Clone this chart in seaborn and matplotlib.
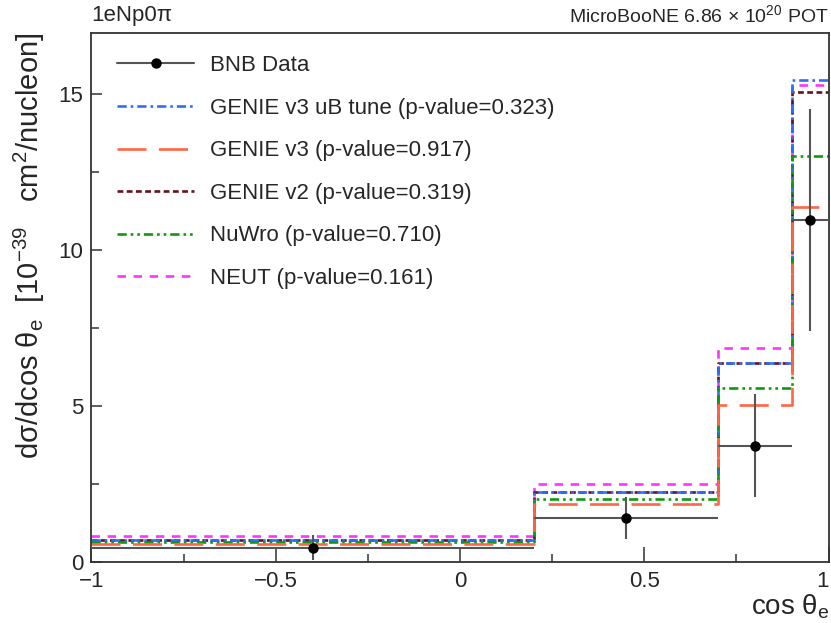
import numpy as np
import pandas as pd
import matplotlib
matplotlib.use("Agg")
import matplotlib.pyplot as plt
import seaborn as sns
from matplotlib.lines import Line2D
from matplotlib.ticker import MultipleLocator

# ---- data ----
bin_edges = [-1.0, 0.2, 0.7, 0.9, 1.0]
bin_centers = [-0.4, 0.45, 0.8, 0.95]
data_vals = [0.46, 1.40, 3.72, 10.97]
data_errs = [0.41, 0.67, 1.65, 3.56]

genie_v3_ub = [0.70, 2.23, 6.37, 15.43]
genie_v3 = [0.58, 1.85, 5.03, 11.36]
genie_v2 = [0.70, 2.23, 6.37, 15.07]
nuwro = [0.64, 2.03, 5.59, 13.01]
neut = [0.82, 2.50, 6.85, 15.29]

model_names = ["GENIE v3 uB tune (p-value=0.323)",
               "GENIE v3 (p-value=0.917)",
               "GENIE v2 (p-value=0.319)",
               "NuWro (p-value=0.710)",
               "NEUT (p-value=0.161)"]
model_vals = [genie_v3_ub, genie_v3, genie_v2, nuwro, neut]
model_colors = ["#2f6ff5", "#ff6644", "#6b0f1a", "#109a10", "#ff33ff"]
model_styles = [(0, (3.5, 1.5, 1, 1.5)), (0, (11, 4.7)), (0, (2.2, 1.3)),
                (0, (3.5, 1.5, 1, 1.5, 1, 1.5)), (0, (3.2, 2.9))]
LW = 1.9

sns.set_theme(style="ticks")
plt.rcParams["font.family"] = ["Liberation Sans", "DejaVu Sans"]
plt.rcParams["mathtext.fontset"] = "custom"
plt.rcParams["mathtext.rm"] = "Liberation Sans"
plt.rcParams["mathtext.it"] = "Liberation Sans:italic"

fig = plt.figure(figsize=(8.31, 6.23), dpi=100)
ax = fig.add_axes([0.110, 0.098, 0.887, 0.849])

draw_order = [4, 2, 0, 3, 1]
for i in draw_order:
    sns.histplot(x=bin_centers, weights=model_vals[i], bins=bin_edges,
                 element="step", fill=False, color=model_colors[i],
                 linestyle=model_styles[i], linewidth=LW, ax=ax)

ax.errorbar(bin_centers, data_vals, yerr=data_errs,
            xerr=[np.array(bin_centers) - np.array(bin_edges[:-1]),
                  np.array(bin_edges[1:]) - np.array(bin_centers)],
            fmt="o", color="black", ecolor="#555555", elinewidth=1.5,
            markersize=6.5, capsize=0, zorder=5)

ax.set_xlim(-1, 1)
ax.set_ylim(0, 16.95)
ax.xaxis.set_minor_locator(MultipleLocator(0.25))
ax.yaxis.set_minor_locator(MultipleLocator(2.5))
ax.set_xticks([-1, -0.5, 0, 0.5, 1])
ax.set_xticklabels(["\u22121", "\u22120.5", "0", "0.5", "1"])
ax.set_yticks([0, 5, 10, 15])
ax.set_yticklabels(["0", "5", "10", "15"])
ax.get_xticklabels()[-1].set_horizontalalignment("right")
ax.tick_params(axis="x", which="major", direction="in", length=11, width=1.1,
               labelsize=16, pad=6.5, color="#333333")
ax.tick_params(axis="x", which="minor", direction="in", length=6, width=1.1,
               color="#333333")
ax.tick_params(axis="y", which="major", direction="in", length=8, width=1.1,
               labelsize=16, pad=6, color="#333333")
ax.tick_params(axis="y", which="minor", direction="in", length=6, width=1.1,
               color="#333333")
for s in ax.spines.values():
    s.set_linewidth(1.3)
    s.set_color("#333333")
    s.set_visible(True)

ax.set_ylabel("d\u03c3/dcos \u03b8$_{\\rm e}$  [10$^{-39}$   cm$^{2}$/nucleon]",
              fontsize=21, loc="top")
ax.set_xlabel("cos \u03b8$_{\\rm e}$", fontsize=20, loc="right")
ax.yaxis.set_label_coords(-0.060, 1.0)
ax.xaxis.set_label_coords(1.002, -0.058)

fig.text(0.110, 0.958, "1eNp0\u03c0", fontsize=16, ha="left", va="bottom")
fig.text(0.997, 0.958, "MicroBooNE 6.86 \u00d7 10$^{20}$ POT", fontsize=14,
         ha="right", va="bottom")

handles = [Line2D([], [], color="#555555", lw=1.5, marker="o",
                  markerfacecolor="black", markeredgecolor="black", markersize=6.5)]
for i in range(5):
    handles.append(Line2D([], [], color=model_colors[i], linestyle=model_styles[i], lw=LW))
labels = ["BNB Data"] + model_names
leg = ax.legend(handles, labels, loc="upper left", bbox_to_anchor=(0.0347, 0.958),
                frameon=False, fontsize=16, handlelength=3.47, labelspacing=0.97,
                handletextpad=0.72, borderaxespad=0, borderpad=0)

fig.savefig("out.png", dpi=100)
